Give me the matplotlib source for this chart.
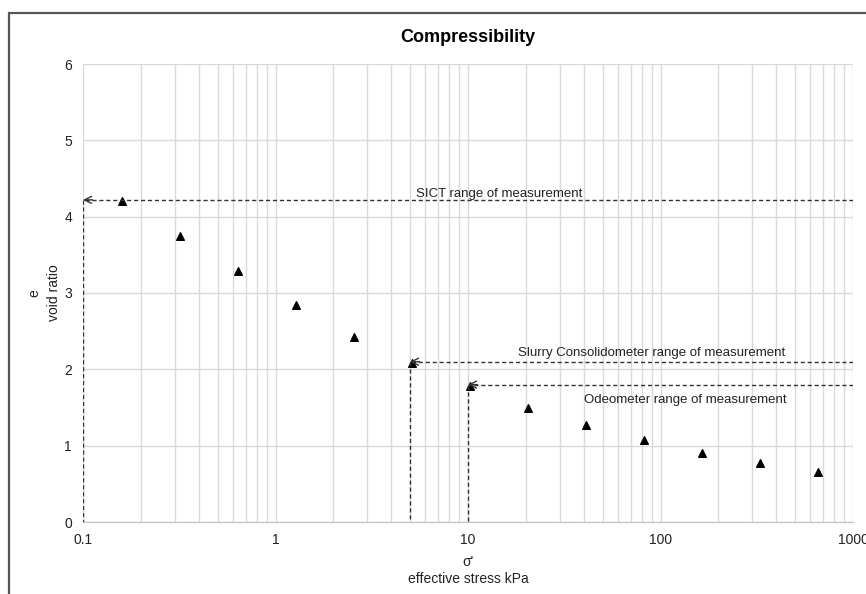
import matplotlib.pyplot as plt
from matplotlib.patches import Rectangle
from matplotlib.ticker import FixedLocator, LogLocator, NullFormatter

plt.rcParams['font.family'] = ['Liberation Sans', 'DejaVu Sans']

# effective stress (kPa) and void ratio
stress = [0.16, 0.32, 0.64, 1.28, 2.56, 5.12, 10.24, 20.48, 40.96, 81.92, 163.84, 327.68, 655.36]
void_ratio = [4.20, 3.75, 3.29, 2.84, 2.43, 2.08, 1.78, 1.50, 1.27, 1.07, 0.91, 0.77, 0.65]

# measurement ranges: lower stress limit, void ratio level, label
range_names = ['SICT range of measurement',
               'Slurry Consolidometer range of measurement',
               'Odeometer range of measurement']
range_start = [0.1, 5, 10]
range_level = [4.22, 2.10, 1.80]
label_pos = [(14.5, 4.30), (90, 2.22), (134, 1.60)]

x_ticks = [0.1, 1, 10, 100, 1000]
x_ticklabels = ['0.1', '1', '10', '100', '1000']

fig = plt.figure(figsize=(8.66, 5.94), dpi=100)
ax = fig.add_axes([83 / 866, 1 - 522 / 594, 770 / 866, 458 / 594])

# outer chart frame
fig.patches.append(Rectangle((8.5 / 866, -0.1), 1.2, 1 - 13 / 594 + 0.1,
                             transform=fig.transFigure, fill=False,
                             edgecolor='#555555', linewidth=1.6))

ax.set_xscale('log')
ax.set_xlim(0.1, 1000)
ax.set_ylim(0, 6)
ax.xaxis.set_major_locator(FixedLocator(x_ticks))
ax.set_xticklabels(x_ticklabels)
ax.xaxis.set_minor_locator(LogLocator(base=10, subs=range(2, 10)))
ax.xaxis.set_minor_formatter(NullFormatter())
ax.set_yticks(range(0, 7))

ax.grid(True, which='both', axis='x', color='#d9d9d9', linewidth=1)
ax.grid(True, which='major', axis='y', color='#d9d9d9', linewidth=1)
ax.set_axisbelow(True)
for s in ['top', 'right', 'left']:
    ax.spines[s].set_visible(False)
ax.spines['bottom'].set_color('#bfbfbf')
ax.tick_params(which='both', length=0, labelsize=10, colors='#222222', pad=8)

ax.scatter(stress, void_ratio, marker='^', s=30, color='black', zorder=3)

for name, x0, lvl, pos in zip(range_names, range_start, range_level, label_pos):
    ax.plot([1000, x0], [lvl, lvl], color='#333333', lw=1, ls=(0, (3, 2)), zorder=4)
    ax.plot([x0, x0], [lvl, 0], color='#333333', lw=1, ls=(0, (3, 2)), zorder=4)
    ax.annotate('', xy=(x0, lvl), xytext=(x0 * 1.12, lvl),
                arrowprops=dict(arrowstyle='->,head_length=0.5,head_width=0.25',
                                color='#333333', lw=1, shrinkA=0, shrinkB=0),
                zorder=5)
    ax.text(pos[0], pos[1], name, fontsize=9.5, color='#222222', va='center', ha='center')

ax.set_title('Compressibility', fontsize=13, fontweight='bold', pad=16)
ax.set_xlabel("σ'\neffective stress kPa", fontsize=10, color='#222222', labelpad=6)
ax.set_ylabel('e\nvoid ratio', fontsize=10, color='#222222', labelpad=2, linespacing=1.5)

fig.savefig('out.png', dpi=100)
